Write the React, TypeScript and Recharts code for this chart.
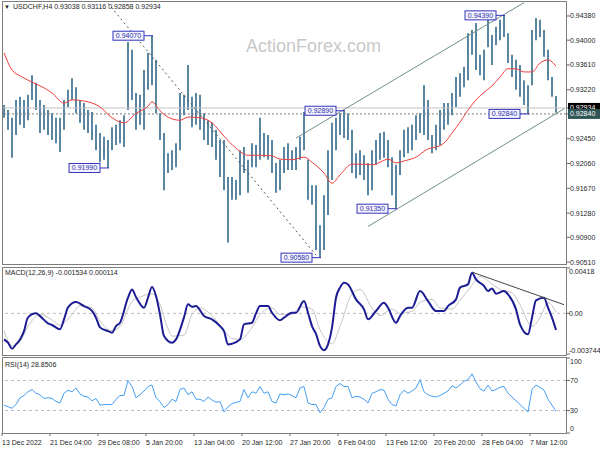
import React from 'react';
import { ComposedChart, Bar, Line, XAxis, YAxis, ReferenceLine, ReferenceDot } from 'recharts';

const FONT = "'Liberation Sans', Arial, sans-serif";

// ---- price bars (each slot ~ 3 H4 bars) ----
const barHigh = [
  0.9298, 0.9290, 0.9278, 0.9306, 0.9311, 0.9306, 0.9314, 0.9345, 0.9333, 0.9306,
  0.9298, 0.9290, 0.9285, 0.9278, 0.9278, 0.9306, 0.9322, 0.9340, 0.9326, 0.9306,
  0.9301, 0.9290, 0.9287, 0.9267, 0.9254, 0.9248, 0.9243, 0.9263, 0.9267, 0.9274,
  0.9282, 0.9397, 0.9385, 0.9317, 0.9314, 0.9353, 0.9380, 0.9407, 0.9369, 0.9285,
  0.9254, 0.9222, 0.9227, 0.9238, 0.9317, 0.9314, 0.9361, 0.9311, 0.9317, 0.9314,
  0.9285, 0.9274, 0.9271, 0.9259, 0.9243, 0.9243, 0.9185, 0.9185, 0.9180, 0.9227,
  0.9232, 0.9212, 0.9238, 0.9235, 0.9278, 0.9254, 0.9251, 0.9243, 0.9207, 0.9212,
  0.9232, 0.9238, 0.9227, 0.9232, 0.9248, 0.9287, 0.9212, 0.9172, 0.9172, 0.9109,
  0.9156, 0.9227, 0.9270, 0.9278, 0.9285, 0.9289, 0.9285, 0.9259, 0.9222, 0.9227,
  0.9219, 0.9207, 0.9227, 0.9243, 0.9254, 0.9256, 0.9243, 0.9216, 0.9204, 0.9227,
  0.9259, 0.9263, 0.9267, 0.9282, 0.9285, 0.9329, 0.9306, 0.9251, 0.9267, 0.9290,
  0.9301, 0.9301, 0.9317, 0.9342, 0.9348, 0.9358, 0.9411, 0.9416, 0.9427, 0.9377,
  0.9385, 0.9432, 0.9408, 0.9421, 0.9432, 0.9439, 0.9411, 0.9377, 0.9369, 0.9361,
  0.9337, 0.9329, 0.9416, 0.9435, 0.9432, 0.9416, 0.9385, 0.9342, 0.9312,
];
const barLow = [
  0.9278, 0.9259, 0.9215, 0.9251, 0.9267, 0.9262, 0.9274, 0.9306, 0.9290, 0.9254,
  0.9259, 0.9251, 0.9243, 0.9238, 0.9224, 0.9259, 0.9295, 0.9306, 0.9285, 0.9270,
  0.9259, 0.9254, 0.9243, 0.9227, 0.9208, 0.9212, 0.9199, 0.9227, 0.9235, 0.9238,
  0.9232, 0.9290, 0.9306, 0.9259, 0.9267, 0.9259, 0.9322, 0.9329, 0.9285, 0.9243,
  0.9164, 0.9191, 0.9196, 0.9200, 0.9227, 0.9282, 0.9290, 0.9263, 0.9267, 0.9259,
  0.9243, 0.9235, 0.9232, 0.9212, 0.9185, 0.9164, 0.9082, 0.9149, 0.9149, 0.9156,
  0.9191, 0.9160, 0.9200, 0.9200, 0.9212, 0.9216, 0.9212, 0.9191, 0.9160, 0.9164,
  0.9191, 0.9196, 0.9196, 0.9196, 0.9212, 0.9227, 0.9149, 0.9141, 0.9070, 0.9058,
  0.9070, 0.9125, 0.9180, 0.9227, 0.9251, 0.9246, 0.9243, 0.9191, 0.9183, 0.9188,
  0.9180, 0.9156, 0.9164, 0.9204, 0.9212, 0.9215, 0.9200, 0.9156, 0.9135, 0.9188,
  0.9216, 0.9222, 0.9227, 0.9243, 0.9254, 0.9251, 0.9243, 0.9222, 0.9227, 0.9235,
  0.9259, 0.9267, 0.9282, 0.9295, 0.9311, 0.9326, 0.9337, 0.9377, 0.9353, 0.9345,
  0.9337, 0.9389, 0.9361, 0.9392, 0.9400, 0.9405, 0.9364, 0.9342, 0.9322, 0.9311,
  0.9298, 0.9284, 0.9329, 0.9400, 0.9405, 0.9374, 0.9337, 0.9311, 0.9286,
];

// ---- moving average (red) ----
const maSlots = [0, 2, 4, 7, 10, 12, 15, 17, 21, 24, 27, 30, 33, 36, 37, 39, 41, 44, 46, 49, 52, 55, 58, 61, 64, 67, 69, 72, 75, 77, 80, 82, 84, 87, 90, 92, 94, 96, 98, 100, 103, 106, 108, 110, 112, 114, 116, 118, 120, 122, 124, 126, 128, 130, 132, 134, 136, 138];
const maValues = [0.9380, 0.9353, 0.9344, 0.9334, 0.9325, 0.9317, 0.9301, 0.9306, 0.9303, 0.9295, 0.9278, 0.9270, 0.9285, 0.9296, 0.9303, 0.9289, 0.9279, 0.9274, 0.9279, 0.9278, 0.9270, 0.9249, 0.9230, 0.9219, 0.9219, 0.9218, 0.9213, 0.9212, 0.9216, 0.9208, 0.9191, 0.9175, 0.9188, 0.9205, 0.9205, 0.9204, 0.9208, 0.9213, 0.9207, 0.9210, 0.9216, 0.9229, 0.9232, 0.9238, 0.9254, 0.9271, 0.9290, 0.9306, 0.9318, 0.9328, 0.9342, 0.9355, 0.9355, 0.9350, 0.9350, 0.9364, 0.9369, 0.9359];

// ---- MACD(12,26,9) ----
const macdSlots = [0, 1, 2, 3, 4, 5, 6, 8, 9, 11, 12, 14, 15, 16, 18, 20, 22, 23, 24, 26, 27, 28, 29, 31, 32, 33, 35, 36, 37, 38, 39, 40, 42, 43, 45, 46, 47, 48, 50, 52, 54, 55, 56, 57, 59, 60, 62, 63, 64, 66, 67, 69, 70, 72, 73, 75, 76, 77, 78, 79, 80, 81, 82, 83, 84, 85, 86, 88, 90, 91, 93, 95, 96, 98, 99, 101, 102, 104, 106, 108, 110, 111, 113, 114, 116, 117, 118, 120, 121, 122, 123, 125, 126, 128, 129, 131, 132, 133, 135, 136, 137, 138];
const macdValues = [-0.00239, -0.0027, -0.00325, -0.00286, -0.0024, -0.00163, -0.00037, 0.0, -0.00025, -0.00092, -0.00107, -0.00147, -0.00055, 0.00055, 0.00104, 0.00067, 0.00022, -0.0004, -0.00129, -0.00163, -0.00178, -0.00117, -0.00086, 0.00144, 0.00221, 0.0015, 0.00052, 0.00144, 0.00242, 0.0016, -0.0001, -0.00209, -0.0027, -0.0024, -0.00037, 0.00083, 0.00061, 0.00067, -0.00025, -0.00055, -0.00117, -0.00163, -0.00286, -0.0028, -0.0024, -0.00101, -0.00086, 0.0, 0.00067, 0.00067, 0.00006, -0.00064, -0.0004, 0.00006, 0.00006, 0.00113, 0.00006, -0.00117, -0.0019, -0.003, -0.0034, -0.00286, -0.00132, 0.00144, 0.00237, 0.00283, 0.00267, 0.00129, 0.00037, -0.00055, 0.00022, 0.00098, 0.00052, -0.00086, -0.00025, 0.00052, 0.00052, 0.00205, 0.00113, 0.00022, 0.00022, 0.00067, 0.00129, 0.00237, 0.00267, 0.00375, 0.00313, 0.00252, 0.00205, 0.0023, 0.00181, 0.00205, 0.00175, 0.00037, -0.00101, -0.00193, -0.0004, 0.0012, 0.00144, 0.00052, -0.0004, -0.00153];
const signalSlots = [0, 2, 4, 6, 9, 12, 14, 17, 19, 22, 24, 27, 29, 32, 34, 37, 39, 41, 42, 45, 47, 49, 52, 54, 57, 59, 62, 64, 67, 69, 72, 74, 77, 79, 82, 84, 87, 89, 92, 94, 97, 99, 102, 104, 107, 109, 112, 114, 117, 119, 122, 124, 127, 129, 132, 134, 136, 138];
const signalValues = [-0.0016, -0.003, -0.0026, -0.0012, -0.0001, -0.0006, -0.0011, -0.0001, 0.0007, 0.0005, -0.0007, -0.0016, -0.0012, 0.0011, 0.0015, 0.0018, 0.0008, -0.0014, -0.0021, -0.002, -0.0001, 0.0005, -0.0002, -0.0011, -0.0023, -0.0024, -0.0013, -0.0001, 0.0005, -0.0001, -0.0001, 0.0006, 0.0004, -0.0015, -0.0028, -0.0012, 0.0018, 0.0022, 0.0005, -0.0002, 0.0004, 0.0, 0.0002, 0.001, 0.0013, 0.0005, 0.0004, 0.0012, 0.0026, 0.0034, 0.0027, 0.0022, 0.0019, 0.0008, -0.0012, -0.0004, 0.001, 0.0001];
const macdMax = 0.00418;
const macdMin = -0.003744;

// ---- RSI(14) ----
const rsiValues = [
  37, 35, 33, 38, 47, 50, 55, 58, 53, 51,
  46, 47, 46, 42, 40, 53, 57, 55, 60, 52,
  49, 48, 43, 46, 37, 38, 38, 38, 45, 50,
  50, 70, 62, 47, 51, 56, 62, 64, 47, 42,
  34, 38, 45, 42, 58, 60, 51, 55, 45, 45,
  42, 48, 44, 41, 42, 28, 35, 39, 41, 42,
  58, 47, 55, 53, 62, 53, 55, 42, 40, 52,
  51, 52, 50, 47, 60, 62, 40, 38, 38, 27,
  34, 45, 47, 62, 66, 62, 62, 47, 49, 48,
  45, 40, 53, 55, 58, 57, 45, 38, 36, 51,
  57, 53, 56, 60, 71, 55, 51, 49, 48, 50,
  53, 56, 63, 60, 64, 69, 71, 79, 68, 59,
  56, 64, 56, 58, 61, 62, 53, 48, 43, 38,
  33, 28, 58, 64, 61, 57, 45, 37, 29,
];

// ---- axes / annotations ----
const xTickSlots = [0, 12, 24, 36, 48, 60, 72, 84, 96, 108, 120, 132];
const xTickLabels = ['13 Dec 2022', '21 Dec 04:00', '29 Dec 08:00', '5 Jan 20:00', '13 Jan 04:00', '20 Jan 12:00', '27 Jan 20:00', '6 Feb 04:00', '13 Feb 12:00', '20 Feb 20:00', '28 Feb 04:00', '7 Mar 12:00'];
const priceTicks = [0.9438, 0.94, 0.9361, 0.9322, 0.9245, 0.9206, 0.9167, 0.9128, 0.909, 0.9051];
const bidPrice = 0.92934;
const levelPrice = 0.9284;
const swingSlots = [37, 26, 79, 85, 98, 125, 131];
const swingPrices = [0.9407, 0.9199, 0.9058, 0.9289, 0.9135, 0.9439, 0.9284];
const descLine = [{ x: 26, y: 0.9458 }, { x: 78, y: 0.9062 }];
const channelUpper = [{ x: 73, y: 0.9246 }, { x: 130, y: 0.9459 }];
const channelLower = [{ x: 91, y: 0.9107 }, { x: 140, y: 0.9292 }];
const macdTrend = [{ x: 117, y: 0.0038 }, { x: 140, y: 0.0008 }];

const SLOTS = 141;
const data = Array.from({ length: SLOTS }, (_, i) => ({
  i,
  range: i < barHigh.length ? [barLow[i], barHigh[i]] : null,
  ma: null as number | null,
  macd: null as number | null,
  signal: null as number | null,
  rsi: i < rsiValues.length ? rsiValues[i] : null,
}));
maSlots.forEach((s, k) => { data[s].ma = maValues[k]; });
macdSlots.forEach((s, k) => { data[s].macd = macdValues[k]; });
signalSlots.forEach((s, k) => { data[s].signal = signalValues[k]; });

const TXT = '#1e1e1e';

const PriceTick = (props: any) => {
  const { x, y, payload } = props;
  const v = payload.value;
  if (v === bidPrice) {
    return (
      <g>
        <rect x={x - 2} y={y - 5} width={33} height={10} fill="#000" />
        <text x={x} y={y} dy="0.35em" fontSize={7} fontFamily={FONT} fill="#fff">{v.toFixed(5)}</text>
      </g>
    );
  }
  if (v === levelPrice) {
    return (
      <g>
        <rect x={x - 2} y={y - 5} width={33} height={10} fill="#2f5555" />
        <text x={x} y={y} dy="0.35em" fontSize={7} fontFamily={FONT} fill="#fff">{v.toFixed(5)}</text>
      </g>
    );
  }
  return <text x={x} y={y} dy="0.35em" fontSize={7} fontFamily={FONT} fill={TXT}>{v.toFixed(5)}</text>;
};

const MacdTick = (props: any) => {
  const { x, y, payload } = props;
  const v = payload.value;
  let label = v.toFixed(5);
  let dy = 0;
  if (v === macdMax) { label = '0.00418'; dy = 3.5; }
  else if (v === 0) { label = '0.00'; }
  else if (v === macdMin) { label = '-0.003744'; dy = -3; }
  return <text x={x - 1} y={y + dy} dy="0.35em" fontSize={7} fontFamily={FONT} fill={TXT}>{label}</text>;
};

const RsiTick = (props: any) => {
  const { x, y, payload } = props;
  const v = payload.value;
  let dy = 0;
  if (v === 100) dy = 4;
  if (v === 0) dy = -4;
  return <text x={x} y={y + dy} dy="0.35em" fontSize={7} fontFamily={FONT} fill={TXT}>{String(v)}</text>;
};

const DateTick = (props: any) => {
  const { x, y, payload } = props;
  const idx = xTickSlots.indexOf(payload.value);
  const label = idx >= 0 ? xTickLabels[idx] : '';
  return (
    <g>
      <line x1={x - 2} y1={y - 3} x2={x - 2} y2={y} stroke="#666" />
      <text x={x - 2} y={y + 8.5} fontSize={7} fontFamily={FONT} fill={TXT}>{label}</text>
    </g>
  );
};

const swingShape = (text: string) => (p: any) => {
  const { cx, cy } = p;
  return (
    <g>
      <line x1={cx - 8} y1={cy} x2={cx + 1} y2={cy} stroke="#3434b8" />
      <rect x={cx - 39} y={cy - 4.5} width={31} height={9} fill="#f4f4ff" stroke="#3434b8" />
      <text x={cx - 23.5} y={cy} dy="0.35em" textAnchor="middle" fontSize={7} fontFamily={FONT} fill="#2c2ca8">{text}</text>
    </g>
  );
};

const frame = (top: number, height: number): React.CSSProperties => ({
  position: 'absolute', left: 2, top, width: 565, height, boxSizing: 'border-box',
  border: '1px solid #7d7d7d', pointerEvents: 'none',
});

const textStyle = (left: number, top: number): React.CSSProperties => ({
  position: 'absolute', left, top, fontSize: 7, lineHeight: '9px', fontFamily: FONT, color: TXT, whiteSpace: 'nowrap',
});

export default function App() {
  return (
    <div style={{ position: 'absolute', left: 0, top: 0, width: 600, height: 450, background: '#fff', overflow: 'hidden' }}>
      <div style={{ position: 'absolute', left: 246, top: 37, fontSize: 18, lineHeight: '18px', fontFamily: FONT, color: '#c8c8c8' }}>ActionForex.com</div>

      <div style={{ position: 'absolute', left: 0, top: 0 }}>
        <ComposedChart width={600} height={266} data={data} margin={{ top: 2, right: 0, bottom: 2, left: 2 }}>
          <XAxis dataKey="i" type="category" scale="band" hide />
          <YAxis orientation="right" width={34} domain={[0.9048, 0.946]} ticks={[...priceTicks, bidPrice, levelPrice]} interval={0}
            tick={<PriceTick />} tickSize={4} tickMargin={0} tickLine={{ stroke: '#666' }} axisLine={false} allowDataOverflow />
          <ReferenceLine y={bidPrice} stroke="#c4c4c4" />
          <ReferenceLine y={levelPrice} stroke="#7a7a7a" strokeDasharray="2 2" />
          <ReferenceLine segment={descLine} stroke="#555" strokeDasharray="2 3" />
          <ReferenceLine segment={channelUpper} stroke="#6d8f88" />
          <ReferenceLine segment={channelLower} stroke="#6d8f88" />
          <Bar dataKey="range" fill="#5a86a0" barSize={2} isAnimationActive={false} />
          <Line dataKey="ma" stroke="#f04040" strokeWidth={1} dot={false} connectNulls type="monotone" isAnimationActive={false} />
          {swingSlots.map((s, k) => (
            <ReferenceDot key={k} x={s} y={swingPrices[k]} r={1} shape={swingShape(swingPrices[k].toFixed(5))} />
          ))}
        </ComposedChart>
      </div>

      <div style={{ position: 'absolute', left: 0, top: 266 }}>
        <ComposedChart width={600} height={90} data={data} margin={{ top: 2, right: 0, bottom: 2, left: 2 }}>
          <XAxis dataKey="i" type="category" scale="band" hide />
          <YAxis orientation="right" width={34} domain={[macdMin, macdMax]} ticks={[macdMax, 0, macdMin]} interval={0}
            tick={<MacdTick />} tickSize={4} tickMargin={0} tickLine={{ stroke: '#666' }} axisLine={false} allowDataOverflow />
          <ReferenceLine y={0} stroke="#bdbdbd" strokeDasharray="3 3" />
          <Bar dataKey="none" barSize={2} isAnimationActive={false} />
          <Line dataKey="signal" stroke="#c6c6c6" strokeWidth={1} dot={false} connectNulls type="monotone" isAnimationActive={false} />
          <Line dataKey="macd" stroke="#1c1c94" strokeWidth={2} dot={false} connectNulls type="monotone" isAnimationActive={false} />
          <ReferenceLine segment={macdTrend} stroke="#444" />
        </ComposedChart>
      </div>

      <div style={{ position: 'absolute', left: 0, top: 356 }}>
        <ComposedChart width={600} height={94} data={data} margin={{ top: 2, right: 0, bottom: 0, left: 2 }}>
          <XAxis dataKey="i" type="category" scale="band" ticks={xTickSlots} interval={0} height={17}
            tick={<DateTick />} tickSize={3} tickMargin={0} tickLine={false} axisLine={false} />
          <YAxis orientation="right" width={34} domain={[0, 100]} ticks={[100, 70, 30, 0]} interval={0}
            tick={<RsiTick />} tickSize={4} tickMargin={0} tickLine={{ stroke: '#666' }} axisLine={false} />
          <ReferenceLine y={70} stroke="#bdbdbd" strokeDasharray="3 3" />
          <ReferenceLine y={30} stroke="#bdbdbd" strokeDasharray="3 3" />
          <Bar dataKey="none" barSize={2} isAnimationActive={false} />
          <Line dataKey="rsi" stroke="#45a0f5" strokeWidth={1} dot={false} connectNulls type="linear" isAnimationActive={false} />
        </ComposedChart>
      </div>

      <div style={frame(1, 264)} />
      <div style={frame(267, 89)} />
      <div style={frame(357, 77)} />

      <div style={textStyle(4, 2)}><span style={{ fontSize: 6 }}>▼</span></div>
      <div style={textStyle(13, 2)}>USDCHF,H4 0.93038 0.93116 0.92858 0.92934</div>
      <div style={textStyle(5, 268)}>MACD(12,26,9) -0.001534 0.000114</div>
      <div style={textStyle(5, 360)}>RSI(14) 28.8506</div>
    </div>
  );
}
